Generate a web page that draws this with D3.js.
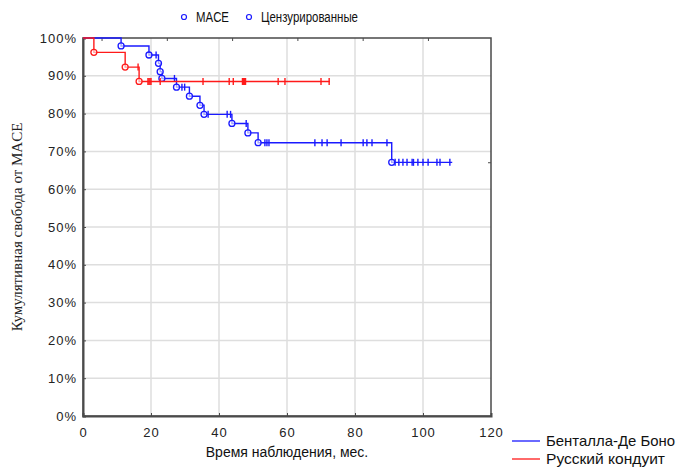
<!DOCTYPE html>
<html>
<head>
<meta charset="utf-8">
<script src="https://cdn.jsdelivr.net/npm/d3@7"></script>
<style>
  body { margin: 0; background: #fff; }
  svg { font-family: "Liberation Sans", Arial, sans-serif; }
</style>
</head>
<body>
<svg id="km-svg"></svg>
<script>
const WIDTH = 679;
const HEIGHT = 468;
const MARGIN = { top: 38, bottom: 52, left: 83, right: 188 };

// Данные.
const X_TICKS = [0, 20, 40, 60, 80, 100, 120];
const Y_TICKS = [0, 10, 20, 30, 40, 50, 60, 70, 80, 90, 100];
const TOP_TICKS = [5.6, 24.8, 44, 63.2, 82.4, 101.6];
const RIGHT_TICKS = [67];

// Бенталла-Де Боно: время события, выживаемость после события
const bentall_t = [11.2, 19.4, 22.2, 22.7, 23.2, 27.5, 31.3, 34.4, 35.6, 43.8, 48.5, 51.5, 90.8];
const bentall_s = [97.9, 95.5, 93.3, 91.1, 89.3, 87.0, 84.6, 82.2, 79.8, 77.4, 74.9, 72.3, 67.1];
const bentall_cens = [21.5, 26.9, 29.1, 29.9, 36.8, 42.4, 43.4, 48.0, 53.5, 54.1, 54.7,
                      68.2, 70.3, 71.8, 75.9, 82.4, 83.5, 85.0, 89.4,
                      91.8, 92.9, 94.1, 95.3, 96.8, 97.2, 98.5, 100, 101.5, 104.1, 105, 107.9];
const bentall_end = 108.6;

// Русский кондуит
const russ_t = [3.2, 12.4, 16.5];
const russ_s = [96.2, 92.3, 88.5];
const russ_cens = [16.2, 19.1, 19.4, 19.7, 20.0, 22.7, 35.3, 43.0, 44.2,
                   46.9, 47.2, 47.5, 47.8, 57.4, 59.4, 70.0, 72.4];
const russ_end = 72.6;

const SERIES = [
  { name: "Бенталла-Де Боно", color: "#1a1aff", t: bentall_t, s: bentall_s, cens: bentall_cens, end: bentall_end },
  { name: "Русский кондуит", color: "#ff1a1a", t: russ_t, s: russ_s, cens: russ_cens, end: russ_end }
];

const svg = d3.select("#km-svg").attr("width", WIDTH).attr("height", HEIGHT);

const x = d3.scaleLinear().domain([0, 120]).range([MARGIN.left, WIDTH - MARGIN.right]);
const y = d3.scaleLinear().domain([0, 100]).range([HEIGHT - MARGIN.bottom, MARGIN.top]);

// Сетка
const grid = svg.append("g").attr("id", "grid");
grid.selectAll("line.gx")
  .data(X_TICKS.slice(1, -1))
  .join("line")
    .attr("class", "gx")
    .attr("x1", d => x(d)).attr("x2", d => x(d))
    .attr("y1", y(0)).attr("y2", y(100))
    .attr("stroke", "#dedede").attr("stroke-width", 1.5);
grid.selectAll("line.gy")
  .data(Y_TICKS.slice(1, -1))
  .join("line")
    .attr("class", "gy")
    .attr("x1", x(0)).attr("x2", x(120))
    .attr("y1", d => y(d)).attr("y2", d => y(d))
    .attr("stroke", "#dedede").attr("stroke-width", 1.5);

// Рамка
svg.append("rect")
  .attr("x", x(0)).attr("y", y(100))
  .attr("width", x(120) - x(0)).attr("height", y(0) - y(100))
  .attr("fill", "none").attr("stroke", "#4a4a4a").attr("stroke-width", 1.5);

// Оси
const xAxis = svg.append("g")
  .attr("transform", `translate(0, ${y(0)})`)
  .call(d3.axisBottom(x).tickValues(X_TICKS).tickSize(-3).tickPadding(12));
const yAxis = svg.append("g")
  .attr("transform", `translate(${x(0)}, 0)`)
  .call(d3.axisLeft(y).tickValues(Y_TICKS).tickSize(-3).tickPadding(6).tickFormat(d => d + "%"));

[xAxis, yAxis].forEach(a => {
  a.select(".domain").attr("stroke", "#4a4a4a").attr("stroke-width", 2);
  a.selectAll(".tick line").attr("stroke", "#4a4a4a");
  a.selectAll(".tick text")
    .attr("fill", "#222")
    .style("font-size", "13px")
    .style("letter-spacing", "1px");
});

// Засечки сверху и справа
svg.append("g").selectAll("line")
  .data(TOP_TICKS)
  .join("line")
    .attr("x1", d => x(d)).attr("x2", d => x(d))
    .attr("y1", y(100)).attr("y2", y(100) + 3)
    .attr("stroke", "#4a4a4a");
svg.append("g").selectAll("line")
  .data(RIGHT_TICKS)
  .join("line")
    .attr("x1", x(120) - 3).attr("x2", x(120))
    .attr("y1", d => y(d)).attr("y2", d => y(d))
    .attr("stroke", "#4a4a4a");

// Кривые Каплана-Мейера
const survivalAt = (ser, time) => {
  let v = 100;
  ser.t.forEach((tt, i) => { if (tt <= time) v = ser.s[i]; });
  return v;
};

const stepLine = d3.line()
  .x(d => x(d[0]))
  .y(d => y(d[1]))
  .curve(d3.curveStepAfter);

const curves = svg.append("g").attr("id", "curves");

SERIES.forEach(ser => {
  const pts = [[0, 100]];
  ser.t.forEach((tt, i) => pts.push([tt, ser.s[i]]));
  pts.push([ser.end, ser.s[ser.s.length - 1]]);

  const g = curves.append("g");
  g.append("path")
    .attr("d", stepLine(pts))
    .attr("fill", "none")
    .attr("stroke", ser.color)
    .attr("stroke-width", 1.4);

  g.selectAll("line.cens")
    .data(ser.cens)
    .join("line")
      .attr("class", "cens")
      .attr("x1", d => x(d)).attr("x2", d => x(d))
      .attr("y1", d => y(survivalAt(ser, d)) - 3.5)
      .attr("y2", d => y(survivalAt(ser, d)) + 3.5)
      .attr("stroke", ser.color)
      .attr("stroke-width", 1.4);

  g.selectAll("circle.ev")
    .data(ser.t.map((tt, i) => [tt, ser.s[i]]))
    .join("circle")
      .attr("class", "ev")
      .attr("cx", d => x(d[0]))
      .attr("cy", d => y(d[1]))
      .attr("r", 3)
      .attr("fill", "#fff")
      .attr("fill-opacity", 0.6)
      .attr("stroke", ser.color)
      .attr("stroke-width", 1.3);
});

// Легенда сверху
const topLegend = svg.append("g");
[["MACE", 184, 196, 33], ["Цензурированные", 249, 261, 97]].forEach(([txt, cx, tx, len]) => {
  topLegend.append("circle")
    .attr("cx", cx).attr("cy", 17).attr("r", 2.5)
    .attr("fill", "#fff").attr("stroke", "#1a1aff").attr("stroke-width", 1.2);
  topLegend.append("text")
    .attr("x", tx).attr("y", 22)
    .attr("textLength", len).attr("lengthAdjust", "spacingAndGlyphs")
    .style("font-size", "15.5px")
    .attr("fill", "#111")
    .text(txt);
});

// Легенда снизу справа
const legend = svg.append("g");
SERIES.forEach((ser, i) => {
  const ly = 441 + i * 18;
  legend.append("line")
    .attr("x1", 512).attr("x2", 540)
    .attr("y1", ly).attr("y2", ly)
    .attr("stroke", ser.color).attr("stroke-width", 1.3);
  legend.append("text")
    .attr("x", 546).attr("y", ly + 5)
    .attr("textLength", i === 0 ? 129 : 119).attr("lengthAdjust", "spacingAndGlyphs")
    .style("font-size", "15px")
    .attr("fill", "#111")
    .text(ser.name);
});

// Подписи осей
svg.append("text")
  .attr("x", (x(0) + x(120)) / 2).attr("y", 457)
  .attr("text-anchor", "middle")
  .style("font-size", "14px")
  .attr("fill", "#111")
  .text("Время наблюдения, мес.");

svg.append("text")
  .attr("transform", `translate(22, ${(y(0) + y(100)) / 2}) rotate(-90)`)
  .attr("text-anchor", "middle")
  .style("font-family", "'Liberation Serif', 'Times New Roman', serif")
  .style("font-size", "15px")
  .attr("fill", "#222")
  .text("Кумулятивная свобода от MACE");
</script>
</body>
</html>
